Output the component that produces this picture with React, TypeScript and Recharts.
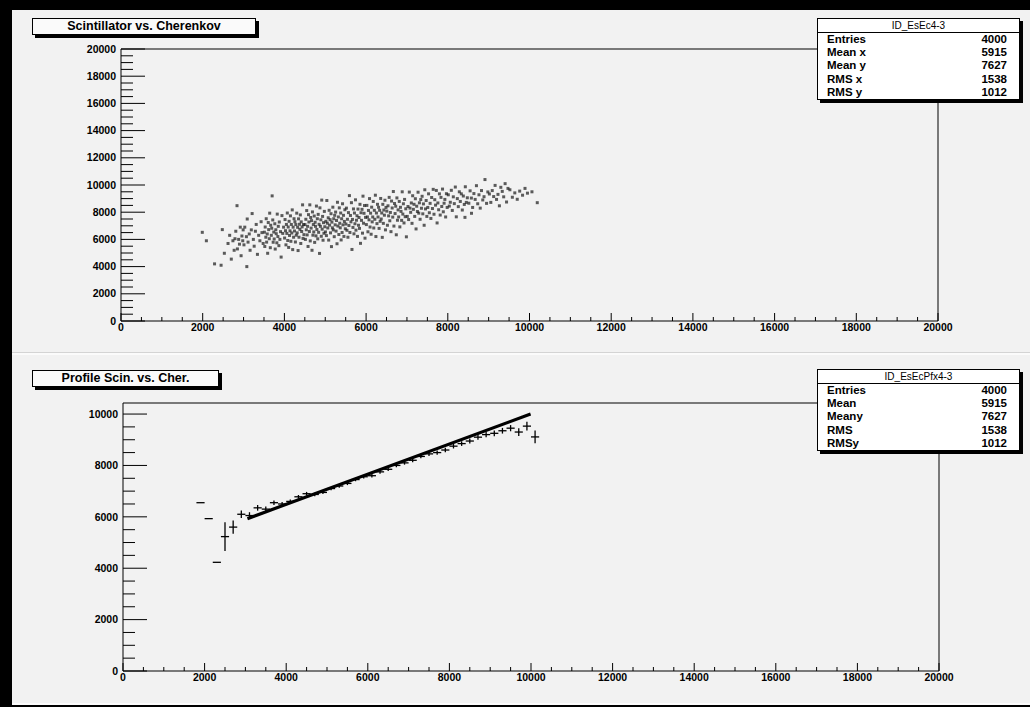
import React from "react";
import {
  ErrorBar,
  ReferenceLine,
  Scatter,
  ScatterChart,
  XAxis,
  YAxis,
} from "recharts";

const FONT = '"Liberation Sans", Arial, Helvetica, sans-serif';

// axis ticks
const xMajorTicks = [0, 2000, 4000, 6000, 8000, 10000, 12000, 14000, 16000, 18000, 20000];
const topYMajorTicks = [0, 2000, 4000, 6000, 8000, 10000, 12000, 14000, 16000, 18000, 20000];
const bottomYMajorTicks = [0, 2000, 4000, 6000, 8000, 10000];
const minorStep = 500;

// scatter: [cherenkov, scintillator]
const cloudPoints: [number, number][] = [
  [1990, 6520], [2090, 5900], [2290, 4200], [2450, 4100], [2480, 6720], [2530, 4980],
  [2620, 5700], [2660, 6300], [2700, 4550], [2740, 5900], [2770, 5200], [2790, 6050],
  [2810, 6600], [2840, 8480], [2850, 5300], [2880, 6000], [2900, 5650], [2920, 6900], [2940, 4800], [2960, 6250], [2980, 5900], [2990, 6700],
  [3010, 5600], [3030, 6900], [3080, 4000], [3070, 6200], [3090, 7500], [3110, 5800], [3140, 6400], [3160, 5200], [3190, 6700], [3210, 7900],
  [3240, 6000], [3260, 5500], [3290, 6600], [3310, 7100], [3340, 4900], [3370, 6300], [3400, 5900], [3430, 7300], [3450, 6500], [3480, 5700],
  [3510, 6530], [3520, 5480], [3530, 6910], [3545, 6160], [3555, 7520], [3565, 5800], [3580, 6400], [3590, 4980], [3605, 7240], [3615, 6720],
  [3630, 6050], [3640, 7930], [3655, 5390], [3665, 7040], [3680, 6300], [3690, 6820], [3700, 9200], [3715, 7430], [3725, 5790], [3740, 6540],
  [3750, 6030], [3765, 7150], [3775, 5290], [3790, 6710], [3800, 6420], [3815, 5750], [3825, 7860], [3840, 6210], [3850, 6960], [3865, 5540],
  [3875, 7280], [3890, 6000], [3905, 6570], [3920, 4700], [3940, 7750], [3960, 6440], [3980, 6900],
  [4005, 6100], [4016, 7460], [4027, 6640], [4038, 5600], [4049, 7100], [4060, 6440], [4071, 7940], [4082, 5920], [4093, 6910], [4104, 5410],
  [4115, 7330], [4126, 6290], [4137, 6630], [4148, 7730], [4159, 5860], [4170, 7100], [4181, 6470], [4192, 8170], [4203, 5250], [4214, 6900],
  [4225, 6160], [4236, 7520], [4247, 6620], [4258, 7300], [4269, 5810], [4280, 7090], [4291, 6310], [4302, 7930], [4313, 6480], [4324, 6890],
  [4335, 5180], [4346, 7510], [4357, 6160], [4368, 7110], [4379, 6740], [4390, 7800], [4401, 5700], [4412, 7290], [4423, 6580], [4434, 6920],
  [4445, 8540], [4456, 6070], [4467, 7090], [4478, 6350],
  [4503, 7090], [4514, 6000], [4525, 7480], [4536, 6710], [4546, 8120], [4557, 6330], [4568, 6960], [4579, 5480], [4590, 7820], [4600, 7280],
  [4611, 6580], [4622, 8540], [4633, 5890], [4644, 7610], [4654, 6830], [4665, 7380], [4676, 5200], [4687, 8020], [4698, 6310], [4708, 7090],
  [4719, 6550], [4730, 7720], [4741, 5780], [4752, 7260], [4762, 6960], [4773, 6260], [4784, 8450], [4795, 6730], [4806, 7520], [4816, 6040],
  [4827, 7840], [4838, 6520], [4849, 7110], [4860, 4970], [4870, 8320], [4881, 6960], [4892, 7440], [4903, 6230], [4914, 8890], [4924, 6750],
  [4935, 7690], [4946, 5940], [4957, 7230], [4968, 6450], [4978, 8060], [4989, 6930],
  [5005, 6550], [5016, 7330], [5028, 6280], [5039, 8860], [5050, 7190], [5062, 6840], [5073, 7590], [5084, 5950], [5095, 8140], [5107, 7050],
  [5118, 7450], [5129, 6480], [5141, 7890], [5152, 5470], [5163, 7270], [5175, 6850], [5186, 8370], [5197, 6700], [5208, 7520], [5220, 6200],
  [5231, 7770], [5242, 7070], [5254, 8010], [5265, 6610], [5276, 7390], [5288, 5680], [5299, 8730], [5310, 6980], [5321, 7650], [5333, 6360],
  [5344, 8320], [5355, 7190], [5367, 6850], [5378, 7940], [5389, 5960], [5401, 7520], [5412, 6510], [5423, 8620], [5434, 7070], [5446, 7770],
  [5457, 6220], [5468, 7320], [5480, 8180], [5491, 6780],
  [5506, 7130], [5518, 8300], [5531, 6670], [5543, 7480], [5555, 6160], [5568, 7970], [5580, 7020], [5592, 9220], [5604, 6510], [5617, 7760],
  [5629, 7290], [5641, 8700], [5654, 5260], [5666, 7470], [5678, 6880], [5691, 8240], [5703, 6410], [5715, 7940], [5727, 7150], [5740, 8910],
  [5752, 6680], [5764, 7410], [5777, 7740], [5789, 6220], [5801, 8230], [5814, 7040], [5826, 7610], [5838, 6810], [5850, 8580], [5863, 5710],
  [5875, 7960], [5887, 7400], [5900, 8210], [5912, 6460], [5924, 9180], [5937, 7190], [5949, 7920], [5961, 8490], [5973, 6090], [5986, 7620],
  [6006, 7090], [6019, 8500], [6032, 7650], [6045, 6560], [6058, 8130], [6071, 7440], [6084, 9000], [6097, 6910], [6110, 7930], [6123, 6380],
  [6136, 8370], [6149, 7290], [6162, 7650], [6175, 8790], [6188, 6840], [6201, 8140], [6214, 7480], [6227, 9250], [6240, 6210], [6253, 7940],
  [6266, 7160], [6279, 8580], [6292, 7650], [6305, 8360], [6318, 6810], [6331, 8140], [6344, 7330], [6357, 9010], [6370, 7500], [6383, 7940],
  [6396, 6150], [6409, 8580], [6422, 7180], [6435, 8160], [6448, 7780], [6461, 8880], [6474, 6700], [6487, 8350],
  [6507, 8080], [6522, 7040], [6536, 8470], [6551, 7730], [6565, 9090], [6580, 7370], [6594, 7980], [6609, 6570], [6623, 8820], [6638, 8310],
  [6652, 7640], [6667, 9520], [6681, 6980], [6696, 8640], [6710, 7900], [6725, 8440], [6739, 6340], [6754, 9050], [6768, 7410], [6783, 8170],
  [6797, 7650], [6812, 8790], [6826, 6920], [6841, 8360], [6855, 8060], [6870, 7400], [6884, 9500], [6899, 7860], [6913, 8620], [6928, 7210],
  [6942, 8940], [6957, 7670], [6971, 8250], [6986, 6190],
  [7008, 7690], [7025, 8420], [7041, 7460], [7058, 9480], [7074, 8300], [7091, 7990], [7107, 8680], [7124, 7180], [7140, 9210], [7157, 8210],
  [7173, 8580], [7190, 7690], [7206, 8990], [7223, 6770], [7239, 8440], [7256, 8050], [7272, 9470], [7289, 7930], [7305, 8690], [7322, 7480],
  [7338, 8930], [7355, 8290], [7371, 9170], [7388, 7880], [7404, 8610], [7421, 7040], [7437, 9650], [7454, 8240], [7470, 8860], [7487, 7690],
  [7510, 8350], [7529, 9350], [7548, 7960], [7567, 8650], [7586, 7540], [7605, 9080], [7624, 8270], [7643, 9680], [7662, 7850], [7681, 8920],
  [7700, 8520], [7719, 9600], [7738, 7210], [7757, 8680], [7776, 8180], [7795, 9350], [7814, 7790], [7833, 9090], [7852, 8420], [7871, 9700],
  [7890, 8030], [7909, 8660], [7928, 8940], [7947, 7650], [7966, 9360], [7985, 8350],
  [8012, 9280], [8037, 8450], [8061, 8730], [8086, 9610], [8110, 8130], [8135, 9130], [8159, 8630], [8184, 9850], [8208, 7660], [8233, 9000],
  [8257, 8410], [8282, 9500], [8306, 8790], [8331, 9350], [8355, 8160], [8380, 9190], [8404, 8570], [8420, 7620], [8429, 9870], [8453, 8720],
  [8478, 9060], [8580, 7920],
  [8515, 8660], [8546, 9570], [8577, 9040], [8608, 8350], [8639, 9370], [8670, 8940], [8701, 9950], [8732, 8620], [8763, 9280], [8794, 8300],
  [8825, 9590], [8856, 8900], [8887, 9140], [8910, 10400], [8949, 8650], [8980, 9490],
  [9018, 9340], [9053, 8720], [9088, 9590], [9123, 9150], [9158, 9970], [9193, 8940], [9228, 9310], [9263, 8470], [9298, 9830], [9333, 9530],
  [9368, 9130], [9403, 10100], [9438, 8750], [9473, 9750],
  [9520, 9650], [9580, 9100], [9640, 9420], [9700, 8950], [9760, 9550], [9830, 9250], [9890, 9750], [9950, 9400],
  [10060, 9500], [10190, 8700],
];

// profile: bin centres, mean and error of the mean
const profileX = [
  1900, 2100, 2300, 2500, 2700, 2900, 3100, 3300, 3500, 3700, 3900, 4100, 4300, 4500,
  4700, 4900, 5100, 5300, 5500, 5700, 5900, 6100, 6300, 6500, 6700, 6900, 7100, 7300,
  7500, 7700, 7900, 8100, 8300, 8500, 8700, 8900, 9100, 9300, 9500, 9700, 9900, 10100,
];
const profileY = [
  6550, 5930, 4230, 5230, 5600, 6100, 6050, 6350, 6300, 6550, 6500, 6600, 6780, 6900,
  6870, 6950, 7100, 7200, 7300, 7450, 7560, 7600, 7750, 7850, 8000, 8100, 8200, 8350,
  8450, 8500, 8600, 8750, 8850, 8950, 9100, 9200, 9250, 9350, 9450, 9300, 9530, 9110,
];
const profileErrY = [
  0, 0, 0, 560, 260, 150, 130, 110, 100, 90, 80, 75, 70, 70,
  65, 65, 65, 65, 65, 65, 65, 70, 70, 70, 70, 70, 75, 75,
  80, 80, 85, 90, 90, 95, 100, 100, 110, 110, 120, 150, 170, 250,
];
const profileHalfBin = 100;

// straight-line fit drawn over the profile
const fitX = [3050, 9990];
const fitY = [5930, 10000];

const topStatTitle = "ID_EsEc4-3";
const topStatLabels = ["Entries", "Mean x", "Mean y", "RMS x", "RMS y"];
const topStatValues = ["4000", "5915", "7627", "1538", "1012"];
const bottomStatTitle = "ID_EsEcPfx4-3";
const bottomStatLabels = ["Entries", "Mean", "Meany", "RMS", "RMSy"];
const bottomStatValues = ["4000", "5915", "7627", "1538", "1012"];

const cloudData = cloudPoints.map(([x, y]) => ({ x, y }));
const profileData = profileX.map((x, i) => ({
  x,
  y: profileY[i],
  ex: profileHalfBin,
  ey: profileErrY[i],
}));
const fitData = fitX.map((x, i) => ({ x, y: fitY[i] }));

function withMinor(max: number) {
  const out: number[] = [];
  for (let v = 0; v <= max; v += minorStep) out.push(v);
  return out;
}

function XTick(props: any) {
  const { x, y, payload, majors, majorLen, minorLen } = props;
  const v = payload.value;
  const major = majors.includes(v);
  return (
    <g>
      <line x1={x} y1={y} x2={x} y2={y - (major ? majorLen : minorLen)} stroke="#000" />
      {major && (
        <text
          x={x}
          y={y + 3}
          dy="0.71em"
          textAnchor="middle"
          fontSize={10.5}
          fontWeight="bold"
          fontFamily={FONT}
          fill="#000"
        >
          {v}
        </text>
      )}
    </g>
  );
}

function YTick(props: any) {
  const { x, y, payload, majors, majorLen, minorLen } = props;
  const v = payload.value;
  const major = majors.includes(v);
  return (
    <g>
      <line x1={x} y1={y} x2={x + (major ? majorLen : minorLen)} y2={y} stroke="#000" />
      {major && (
        <text
          x={x - 5}
          y={y}
          dy="0.35em"
          textAnchor="end"
          fontSize={10.5}
          fontWeight="bold"
          fontFamily={FONT}
          fill="#000"
        >
          {v}
        </text>
      )}
    </g>
  );
}

function CloudDot(props: any) {
  return (
    <rect
      x={props.cx - 1.5}
      y={props.cy - 1.5}
      width={3}
      height={3}
      fill="#111"
      fillOpacity={0.68}
    />
  );
}

function TitleBox({ left, top, width, text }: any) {
  return (
    <div
      style={{
        position: "absolute",
        left,
        top,
        width,
        height: 15,
        background: "#fafafa",
        border: "1px solid #000",
        boxShadow: "3px 3px 0 #000",
        fontFamily: FONT,
        fontWeight: "bold",
        fontSize: 12.5,
        lineHeight: "15px",
        textAlign: "center",
        color: "#000",
      }}
    >
      {text}
    </div>
  );
}

function StatBox({ left, top, title, labels, values }: any) {
  return (
    <div
      style={{
        position: "absolute",
        left,
        top,
        width: 201,
        height: 80,
        background: "#fff",
        border: "1px solid #000",
        boxShadow: "3px 3px 0 #000",
        fontFamily: FONT,
        color: "#000",
      }}
    >
      <div
        style={{
          height: 13,
          borderBottom: "1px solid #000",
          textAlign: "center",
          fontSize: 10,
          lineHeight: "13px",
        }}
      >
        {title}
      </div>
      <div style={{ padding: "0 12px 0 9px" }}>
        {labels.map((label: string, i: number) => (
          <div
            key={label}
            style={{
              display: "flex",
              justifyContent: "space-between",
              height: 13.2,
              lineHeight: "13px",
              fontSize: 11.5,
              fontWeight: "bold",
            }}
          >
            <span>{label}</span>
            <span>{values[i]}</span>
          </div>
        ))}
      </div>
    </div>
  );
}

export default function App() {
  const xTicks = withMinor(20000);
  const topYTicks = withMinor(20000);
  const bottomYTicks = withMinor(10000);

  return (
    <div
      style={{
        position: "absolute",
        left: 0,
        top: 0,
        width: 1030,
        height: 707,
        background: "#000",
        overflow: "hidden",
      }}
    >
      <div
        style={{
          position: "absolute",
          left: 12,
          top: 10,
          width: 1018,
          height: 695,
          background: "#f2f2f2",
        }}
      />
      <div style={{ position: "absolute", left: 12, top: 352, width: 1018, height: 1, background: "#d4d4d4" }} />
      <div style={{ position: "absolute", left: 12, top: 353, width: 1018, height: 2, background: "#fbfbfb" }} />
      <div style={{ position: "absolute", left: 12, top: 703, width: 1018, height: 2, background: "#fbfbfb" }} />

      <div style={{ position: "absolute", left: 0, top: 0 }}>
        <ScatterChart
          width={1030}
          height={350}
          margin={{ top: 49, right: 92, bottom: 0, left: 0 }}
        >
          <XAxis
            type="number"
            dataKey="x"
            domain={[0, 20000]}
            allowDataOverflow
            ticks={xTicks}
            interval={0}
            tickSize={0}
            tickMargin={0}
            height={29}
            axisLine={{ stroke: "#000" }}
            tickLine={false}
            tick={(p: any) => (
              <XTick {...p} majors={xMajorTicks} majorLen={8} minorLen={4} />
            )}
          />
          <YAxis
            type="number"
            dataKey="y"
            domain={[0, 20000]}
            allowDataOverflow
            ticks={topYTicks}
            interval={0}
            tickSize={0}
            tickMargin={0}
            width={121}
            axisLine={{ stroke: "#000" }}
            tickLine={false}
            tick={(p: any) => (
              <YTick {...p} majors={topYMajorTicks} majorLen={24} minorLen={12} />
            )}
          />
          <ReferenceLine y={20000} stroke="#000" />
          <ReferenceLine x={20000} stroke="#000" />
          <Scatter
            data={cloudData}
            shape={CloudDot}
            isAnimationActive={false}
          />
        </ScatterChart>
      </div>

      <div style={{ position: "absolute", left: 0, top: 355 }}>
        <ScatterChart
          width={1030}
          height={350}
          margin={{ top: 48, right: 91, bottom: 0, left: 0 }}
        >
          <XAxis
            type="number"
            dataKey="x"
            domain={[0, 20000]}
            allowDataOverflow
            ticks={xTicks}
            interval={0}
            tickSize={0}
            tickMargin={0}
            height={34}
            axisLine={{ stroke: "#000" }}
            tickLine={false}
            tick={(p: any) => (
              <XTick {...p} majors={xMajorTicks} majorLen={8} minorLen={4} />
            )}
          />
          <YAxis
            type="number"
            dataKey="y"
            domain={[0, 10430]}
            allowDataOverflow
            ticks={bottomYTicks}
            interval={0}
            tickSize={0}
            tickMargin={0}
            width={123}
            axisLine={{ stroke: "#000" }}
            tickLine={false}
            tick={(p: any) => (
              <YTick {...p} majors={bottomYMajorTicks} majorLen={24} minorLen={12} />
            )}
          />
          <ReferenceLine y={10430} stroke="#000" />
          <ReferenceLine x={20000} stroke="#000" />
          <Scatter
            data={fitData}
            line={{ stroke: "#000", strokeWidth: 3.2 }}
            shape={() => <g />}
            isAnimationActive={false}
          />
          <Scatter
            data={profileData}
            shape={() => <g />}
            isAnimationActive={false}
          >
            <ErrorBar dataKey="ey" direction="y" width={0} stroke="#000" strokeWidth={1.3} />
            <ErrorBar dataKey="ex" direction="x" width={0} stroke="#000" strokeWidth={1.3} />
          </Scatter>
        </ScatterChart>
      </div>

      <TitleBox left={32} top={18} width={222} text="Scintillator vs. Cherenkov" />
      <TitleBox left={32} top={370} width={185} text="Profile Scin. vs. Cher." />
      <StatBox
        left={817}
        top={18}
        title={topStatTitle}
        labels={topStatLabels}
        values={topStatValues}
      />
      <StatBox
        left={817}
        top={369}
        title={bottomStatTitle}
        labels={bottomStatLabels}
        values={bottomStatValues}
      />
    </div>
  );
}
